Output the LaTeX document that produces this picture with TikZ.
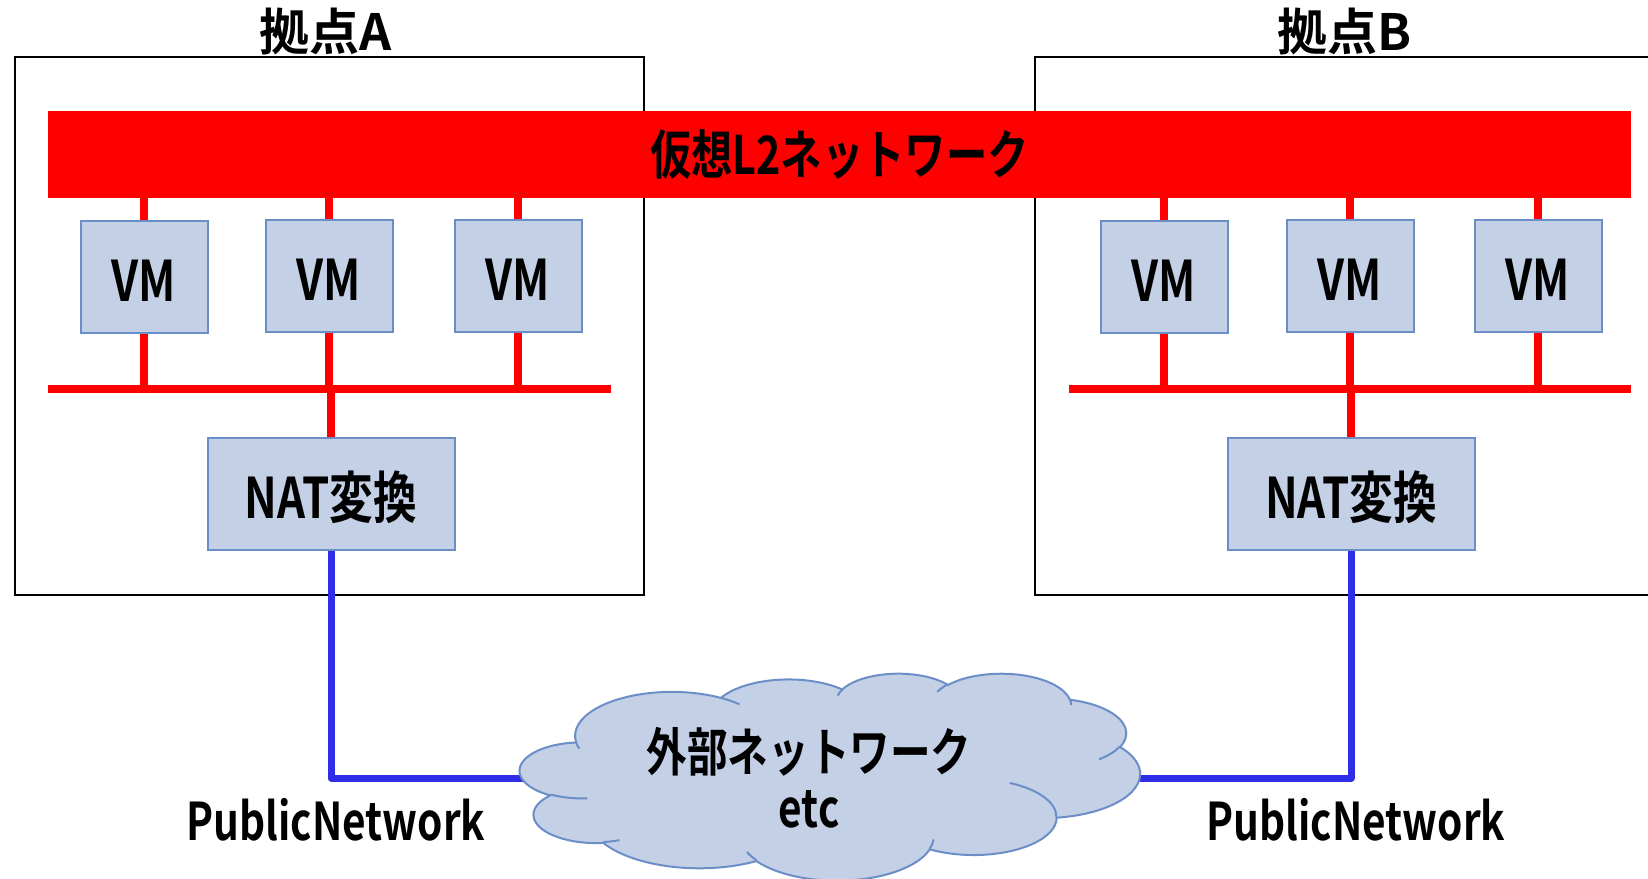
\documentclass[tikz,border=0pt]{standalone}
\usepackage{fontspec}
\newfontfamily\jpfont{Noto Sans CJK JP Bold}[FakeStretch=0.78]
\newfontfamily\jptitle{Noto Sans CJK JP Bold}
\definecolor{vmfill}{RGB}{196,208,230}
\definecolor{vmline}{RGB}{108,142,199}
\definecolor{netblue}{RGB}{46,46,232}
\definecolor{l2red}{RGB}{255,0,0}
\begin{document}
\begin{tikzpicture}[x=0.5pt,y=-0.5pt,
  site/.style={draw=black,line width=0.8pt},
  sitetitle/.style={font=\jptitle\fontsize{25}{28}\selectfont,inner sep=0pt},
  vmbox/.style={draw=vmline,fill=vmfill,line width=1pt,minimum width=63.5pt,
    minimum height=56pt,inner sep=0pt,text height=24pt,text depth=0pt,
    font=\jpfont\fontsize{28}{30}\selectfont},
  natbox/.style={vmbox,minimum width=123.5pt,text height=27.5pt,text depth=3.5pt,
    font=\jpfont\fontsize{28}{30}\selectfont},
  redwire/.style={draw=l2red,line width=3.75pt},
  bluewire/.style={draw=netblue,line width=3.5pt,line join=round},
  publabel/.style={font=\jpfont\fontsize{26}{29}\selectfont,inner sep=0pt},
  cloudline/.style={draw=vmline,line width=1pt},
  % elliptic arc given by radii and start/sweep angles measured from the centre
  carc/.style n args={4}{insert path={arc[x radius=#1, y radius=#2,
    start angle={atan2((#1)*sin(#3),(#2)*cos(#3))},
    delta angle={mod(atan2((#1)*sin((#3)+(#4)),(#2)*cos((#3)+(#4)))-atan2((#1)*sin(#3),(#2)*cos(#3))+720,360)}]}}
]
\useasboundingbox (0,0) rectangle (1648,878);
\clip (0,0) rectangle (1648,878);

% site frames
\draw[site] (15,57) rectangle (644,595);
\draw[site] (1035,57) rectangle (1670,595);
\node[sitetitle] (titleA) at (326,32) {拠点A};
\node[sitetitle] (titleB) at (1345,32) {拠点B};

% shared virtual L2 segment
\node[fill=l2red,minimum width=791.5pt,minimum height=43.5pt,inner sep=0pt,
  font=\jpfont\fontsize{26.5}{28}\selectfont] (l2bar) at (839.5,154.5) {仮想L2ネットワーク};

% virtual machines
\node[vmbox] (vmA1) at (144,277) {VM};
\node[vmbox] (vmA2) at (329,276) {VM};
\node[vmbox] (vmA3) at (518,276) {VM};
\node[vmbox] (vmB1) at (1164,277) {VM};
\node[vmbox] (vmB2) at (1350,276) {VM};
\node[vmbox] (vmB3) at (1538,276) {VM};

% NAT gateways
\node[natbox] (natA) at (331,494) {NAT変換};
\node[natbox] (natB) at (1351,494) {NAT変換};

% local segments
\coordinate (lanAw) at (48,389);
\coordinate (lanAe) at (611,389);
\coordinate (lanBw) at (1069,389);
\coordinate (lanBe) at (1631,389);
\draw[redwire] (lanAw) -- (lanAe);
\draw[redwire] (lanBw) -- (lanBe);

\foreach \v in {vmA1,vmA2,vmA3,vmB1,vmB2,vmB3}{
  \draw[redwire] (\v.north) -- (\v.north |- l2bar.south);
  \draw[redwire] (\v.south) -- (\v.south |- lanAw);
}
\draw[redwire] (natA.north) -- (natA.north |- lanAw);
\draw[redwire] (natB.north) -- (natB.north |- lanBw);

% uplinks to the external network
\coordinate (extW) at (540,778);
\coordinate (extE) at (1125,778);
\draw[bluewire] (natA.south) |- (extW);
\draw[bluewire] (natB.south) |- (extE);

% external network cloud (units: 1/4320 of its box)
\begin{scope}[shift={(520,673)},xscale=0.1435,yscale=0.0479]
  \path[cloudline,fill=vmfill] (390,1437)
    [carc={675.3}{919.0}{-190.4875}{123.7805}]
    [carc={533.3}{726.7}{-144.1024}{89.9452}]
    [carc={436.5}{594.5}{-145.8079}{99.7230}]
    [carc={485.7}{659.5}{-130.9861}{117.2417}]
    [carc={533.3}{727.3}{-78.7089}{109.0269}]
    [carc={677.5}{922.0}{-46.2673}{130.2690}]
    [carc={578.5}{786.7}{0.6250}{114.0333}]
    [carc={675.2}{921.5}{22.4516}{115.1726}]
    [carc={772.0}{1054.3}{66.2426}{75.7110}]
    [carc={436.0}{591.8}{-274.9421}{146.7356}]
    [carc={434.5}{594.5}{-246.8285}{152.5189}] -- cycle;
  \path[cloudline]
    (469.3,2617.7) [carc={434.5}{594.5}{86.7420}{26.4295}]
    (692.8,3489.9) [carc={436.0}{591.8}{73.6105}{11.4475}]
    (1647.8,3909.0) [carc={675.2}{921.5}{137.6242}{14.0811}]
    (2882.7,3475.1) [carc={675.2}{921.5}{6.4533}{15.9984}]
    (3412.9,2295.4) [carc={578.5}{786.7}{-70.2924}{70.9174}]
    (4179.8,1535.4) [carc={533.3}{727.3}{30.3180}{27.7515}]
    (3832.4,542.6) [carc={485.7}{659.5}{-13.7443}{14.8589}]
    (2907.8,395.2) [carc={485.7}{659.5}{-149.1815}{18.1954}]
    (2214.1,472.0) [carc={436.5}{594.5}{-163.4943}{17.6864}]
    (1400.0,519.2) [carc={675.3}{919.0}{-66.7070}{12.3194}]
    (412.7,1578.9) [carc={675.3}{919.0}{157.6544}{11.8582}];
\end{scope}
\node[font=\jpfont\fontsize{26}{28}\selectfont,align=center,inner sep=0pt] (exttext) at (809,778) {外部ネットワーク\\etc};

\node[publabel] (pubA) at (336,820) {PublicNetwork};
\node[publabel] (pubB) at (1356,820) {PublicNetwork};
\end{tikzpicture}
\end{document}
